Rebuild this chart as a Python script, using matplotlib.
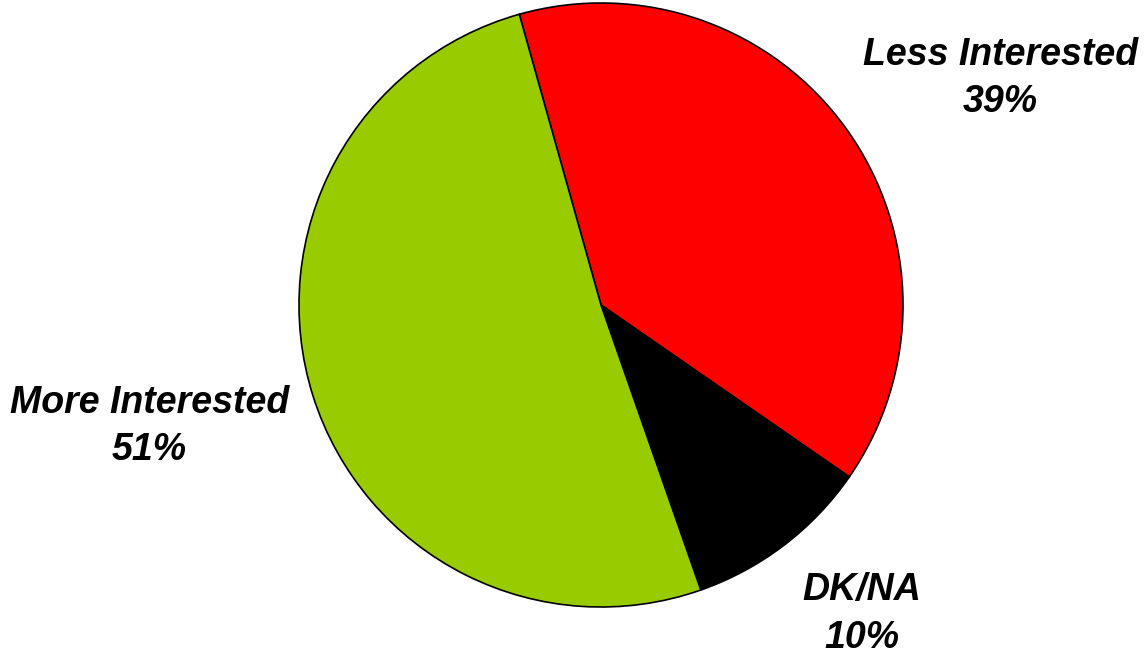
import matplotlib.pyplot as plt

# slices go clockwise from the top
labels = ["Less Interested", "DK/NA", "More Interested"]
shares = [39, 10, 51]
colors = ["#ff0000", "#000000", "#99cc00"]

fig = plt.figure(figsize=(11.48, 6.55), dpi=100)
# pie centre ~ (601, 305) px, radius ~302 px
r = 302
ax = fig.add_axes([(601 - r) / 1148, (350 - r) / 655, 2 * r / 1148, 2 * r / 655])
ax.pie(shares, colors=colors, startangle=105.7, counterclock=False,
       wedgeprops=dict(edgecolor="black", linewidth=1.2), radius=1.0)
ax.set_xlim(-1, 1)
ax.set_ylim(-1, 1)
ax.set_aspect("equal")
ax.axis("off")

font = dict(family="Liberation Sans", weight="bold", style="italic", size=27)
label_pos = {
    "Less Interested": (1.322, 0.750),
    "DK/NA": (0.864, -1.022),
    "More Interested": (-1.496, -0.402),
}
for lab, val in zip(labels, shares):
    x, y = label_pos[lab]
    ax.text(x, y, f"{lab}\n{val}%", ha="center", va="center",
            linespacing=1.42, clip_on=False, **font)

fig.savefig("out.png", dpi=100)
